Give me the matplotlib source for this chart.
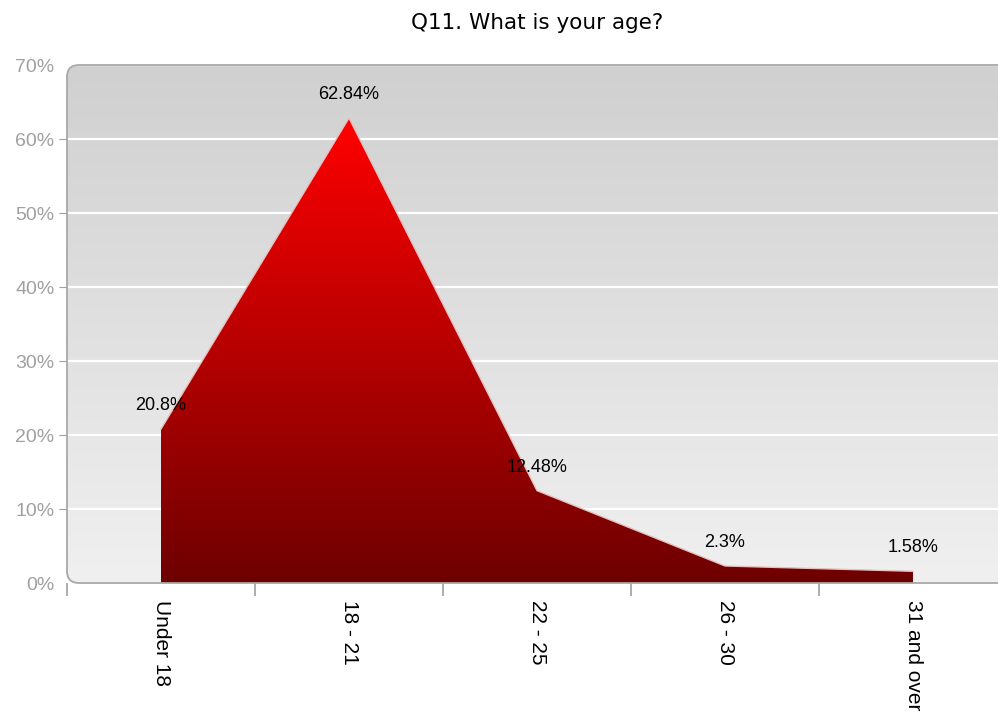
import numpy as np
import matplotlib
matplotlib.use("Agg")
import matplotlib.pyplot as plt
from matplotlib.patches import FancyBboxPatch, Polygon
from matplotlib.colors import LinearSegmentedColormap

plt.rcParams['font.family'] = ['Liberation Sans', 'DejaVu Sans']

title = "Q11. What is your age?"
categories = ["Under 18", "18 - 21", "22 - 25", "26 - 30", "31 and over"]
values = [20.8, 62.84, 12.48, 2.3, 1.58]
value_labels = ["20.8%", "62.84%", "12.48%", "2.3%", "1.58%"]
yticks = [0, 10, 20, 30, 40, 50, 60, 70]
ytick_labels = ["0%", "10%", "20%", "30%", "40%", "50%", "60%", "70%"]

W, H = 998, 715
fig = plt.figure(figsize=(W / 100, H / 100), dpi=100)
ax_left, ax_bottom, ax_w, ax_h = 67, 132, 940, 518
ax = fig.add_axes([ax_left / W, ax_bottom / H, ax_w / W, ax_h / H])
x = np.arange(len(categories))
ax.set_xlim(-0.5, len(categories) - 0.5)
ax.set_ylim(0, 70)

# rounded plot-area frame (inch coordinates)
frame = FancyBboxPatch((ax_left / 100, ax_bottom / 100), ax_w / 100 + 0.3, ax_h / 100,
                       boxstyle="round,pad=0,rounding_size=0.12",
                       transform=fig.dpi_scale_trans, facecolor='none',
                       edgecolor='#a8a8a8', lw=1.3, zorder=5)
fig.add_artist(frame)

# background gradient
bg_cmap = LinearSegmentedColormap.from_list('bg', ['#f0f0f0', '#d0d0d0'])
grad = np.linspace(0, 1, 256).reshape(-1, 1)
bg = ax.imshow(grad, extent=[-0.5, len(categories) - 0.5, 0, 70], aspect='auto',
               cmap=bg_cmap, origin='lower', zorder=0)
bg.set_clip_path(frame)

# grid
ax.set_axisbelow(True)
ax.yaxis.grid(True, color='white', lw=1.6)
ax.xaxis.grid(False)

# area with red gradient
verts = [(x[0], 0)] + list(zip(x, values)) + [(x[-1], 0)]
poly = Polygon(verts, closed=True, facecolor='none', edgecolor='none')
ax.add_patch(poly)
red_cmap = LinearSegmentedColormap.from_list('red', ['#6e0000', '#ff0000'])
vmax = max(values)
area = ax.imshow(grad, extent=[x[0], x[-1], 0, vmax], aspect='auto',
                 cmap=red_cmap, origin='lower', zorder=2)
area.set_clip_path(poly)
ax.plot(x, values, color='#e8c0c0', lw=1.0, zorder=3)

# value labels
for xi, v, lab in zip(x, values, value_labels):
    ax.annotate(lab, (xi, v), xytext=(0, 17), textcoords='offset points',
                ha='center', va='center', fontsize=13, color='black', zorder=6)

# axes styling
for s in ax.spines.values():
    s.set_visible(False)
ax.set_yticks(yticks)
ax.set_yticklabels(ytick_labels, color='#a0a0a0', fontsize=14)
ax.tick_params(axis='y', length=6, color='#a0a0a0', pad=3)
yt = ax.yaxis.get_major_ticks()
yt[0].tick1line.set_visible(False)
yt[-1].tick1line.set_visible(False)

ax.set_xticks(x)
ax.set_xticklabels(categories, rotation=-90, fontsize=15, color='black', va='top', ha='center')
ax.tick_params(axis='x', which='major', length=0, pad=12)
ax.set_xticks(np.arange(-0.5, len(categories) - 0.5, 1.0), minor=True)
ax.tick_params(axis='x', which='minor', length=9, color='#a0a0a0', width=1.2)

fig.text((ax_left + ax_w / 2) / W, 1 - 23 / H, title, ha='center', va='center',
         fontsize=15.5, color='black', family=['DejaVu Sans'])

fig.savefig("out.png", dpi=100)
